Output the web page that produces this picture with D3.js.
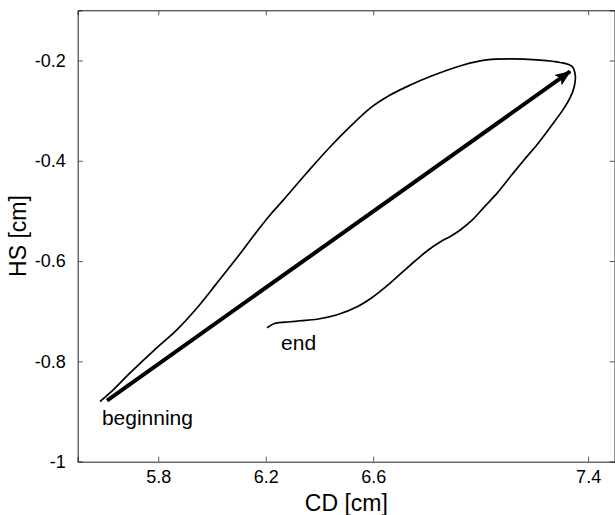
<!DOCTYPE html>
<meta charset="utf-8">
<script src="https://d3js.org/d3.v7.min.js"></script>
<style>
  body { margin: 0; background: #fff; }
  text { font-family: "Liberation Sans", Arial, sans-serif; fill: #000; }
</style>
<div id="chart"></div>
<script>
    // trajectory, CD [cm] vs HS [cm]
    var cd = [5.583, 5.620, 5.695, 5.794, 5.869, 5.943, 6.018, 6.092, 6.167, 6.216,
              6.266, 6.353, 6.440, 6.514, 6.589, 6.663, 6.738, 6.812, 6.935, 7.023,
              7.110, 7.210, 7.296, 7.340, 7.352, 7.348, 7.334, 7.308, 7.259, 7.211,
              7.159, 7.110, 7.062, 7.017, 6.969, 6.924, 6.890, 6.849, 6.805, 6.738,
              6.663, 6.600, 6.540, 6.466, 6.391, 6.328, 6.291, 6.235, 6.205];
    var hs = [-0.880, -0.863, -0.823, -0.773, -0.737, -0.694, -0.644, -0.594, -0.541, -0.508,
              -0.478, -0.424, -0.372, -0.332, -0.295, -0.269, -0.249, -0.232, -0.209, -0.199,
              -0.197, -0.199, -0.204, -0.212, -0.229, -0.253, -0.273, -0.297, -0.333, -0.367,
              -0.400, -0.432, -0.464, -0.490, -0.518, -0.538, -0.550, -0.562, -0.578, -0.608,
              -0.644, -0.671, -0.691, -0.707, -0.716, -0.719, -0.721, -0.724, -0.733];

    var arrowCD = [5.609, 7.333];
    var arrowHS = [-0.878, -0.222];

    var xTicks = [5.8, 6.2, 6.6, 7.4];
    var yTicks = [-1, -0.8, -0.6, -0.4, -0.2];

    var labelText = ["beginning", "end"];
    var labelCD = [5.590, 6.257];
    var labelHS = [-0.927, -0.777];

    var width = 615, height = 515;
    var margin = { top: 10.3, right: 0, bottom: 53.3, left: 77.7 };

    var x = d3.scaleLinear().domain([5.5, 7.5]).range([margin.left, width - margin.right]);
    var y = d3.scaleLinear().domain([-1, -0.1]).range([height - margin.bottom, margin.top]);

    var svg = d3.select("#chart").append("svg")
        .attr("width", width)
        .attr("height", height);

    // plain hyphen minus, like matlab
    var tickFmt = function(d) { return String(d); };

    // axes, ticks pointing inward
    var xAxis = svg.append("g")
        .attr("transform", "translate(0," + y(-1) + ")")
        .call(d3.axisBottom(x).tickValues(xTicks).tickSize(-5).tickPadding(9).tickFormat(d3.format(".1f")));
    var xTop = svg.append("g")
        .attr("transform", "translate(0," + y(-0.1) + ")")
        .call(d3.axisTop(x).tickValues(xTicks).tickSize(-5).tickFormat(""));
    var yAxis = svg.append("g")
        .attr("transform", "translate(" + x(5.5) + ",0)")
        .call(d3.axisLeft(y).tickValues(yTicks).tickSize(-5).tickPadding(12).tickFormat(tickFmt));
    var yRight = svg.append("g")
        .attr("transform", "translate(" + (x(7.5) - 0.5) + ",0)")
        .call(d3.axisRight(y).tickValues(yTicks).tickSize(-5).tickFormat(""));

    svg.selectAll(".domain").attr("stroke", "#222");
    svg.selectAll(".tick line").attr("stroke", "#555");
    svg.selectAll(".tick text")
        .attr("font-size", "18px")
        .attr("font-family", "Liberation Sans, Arial, sans-serif")
        .attr("fill", "#000");

    svg.append("text")
        .attr("x", (x(5.5) + x(7.5)) / 2)
        .attr("y", 511)
        .attr("text-anchor", "middle")
        .attr("font-size", "23px")
        .text("CD [cm]");

    svg.append("text")
        .attr("transform", "translate(26," + (y(-1) + y(-0.1)) / 2 + ") rotate(-90)")
        .attr("text-anchor", "middle")
        .attr("font-size", "23px")
        .text("HS [cm]");

    // trajectory
    var pts = d3.range(cd.length).map(function(i) { return [cd[i], hs[i]]; });
    var line = d3.line()
        .x(function(d) { return x(d[0]); })
        .y(function(d) { return y(d[1]); })
        .curve(d3.curveCatmullRom.alpha(0.5));

    svg.append("path")
        .datum(pts)
        .attr("fill", "none")
        .attr("stroke", "#000")
        .attr("stroke-width", 1.7)
        .attr("d", line);

    // arrow beginning -> turning point
    svg.append("defs").append("marker")
        .attr("id", "head")
        .attr("markerUnits", "userSpaceOnUse")
        .attr("viewBox", "0 -7 16 14")
        .attr("refX", 15)
        .attr("refY", 0)
        .attr("markerWidth", 16)
        .attr("markerHeight", 14)
        .attr("orient", "auto")
        .append("path")
        .attr("d", "M0,-6.5L16,0L0,6.5L3.5,0Z")
        .attr("fill", "#000");

    svg.append("line")
        .attr("x1", x(arrowCD[0]))
        .attr("y1", y(arrowHS[0]))
        .attr("x2", x(arrowCD[1]))
        .attr("y2", y(arrowHS[1]))
        .attr("stroke", "#000")
        .attr("stroke-width", 4)
        .attr("marker-end", "url(#head)");

    svg.selectAll(".note")
        .data(labelText)
        .enter()
        .append("text")
        .attr("class", "note")
        .attr("x", function(d, i) { return x(labelCD[i]); })
        .attr("y", function(d, i) { return y(labelHS[i]); })
        .attr("font-size", "21px")
        .text(function(d) { return d; });
</script>
